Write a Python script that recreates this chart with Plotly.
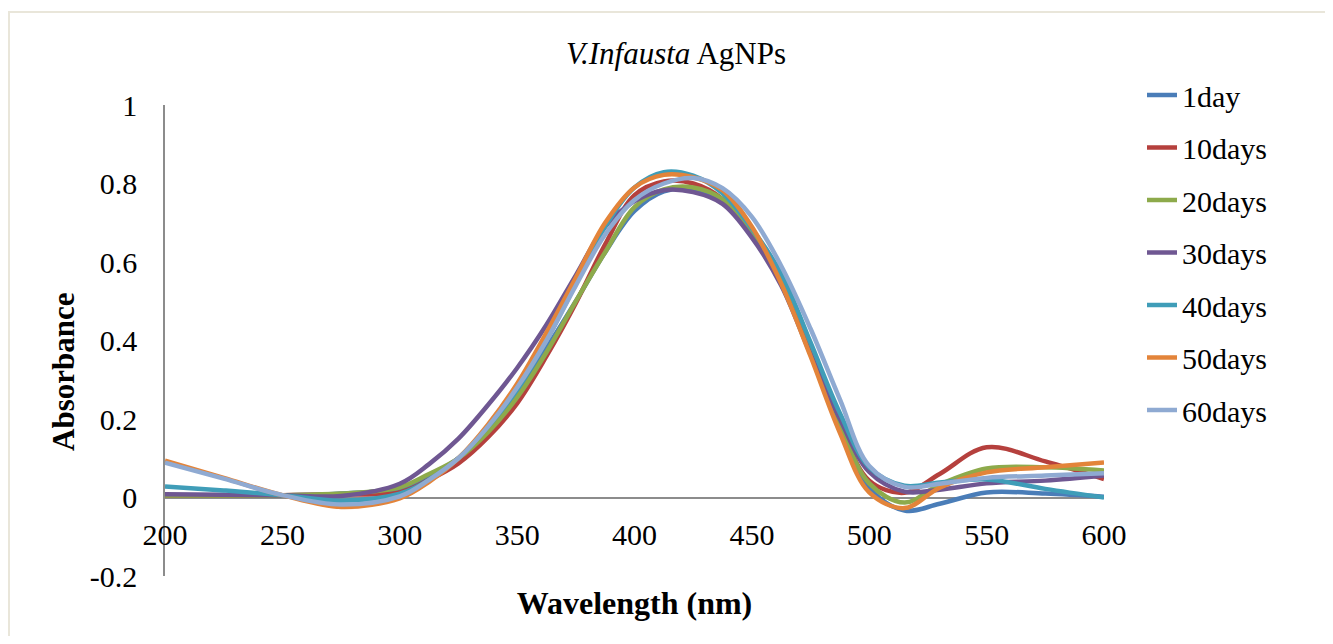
import plotly.graph_objects as go

wavelength = [200, 225, 250, 275, 300, 312.5, 325, 337.5, 350, 362.5, 375, 387.5, 400,
              412.5, 425, 437.5, 450, 462.5, 475, 487.5, 500, 515, 530, 550, 575, 600]

day1 = [0.005, 0.005, 0.005, 0.010, 0.023, 0.055, 0.100, 0.170, 0.265, 0.380, 0.500, 0.625, 0.730,
        0.780, 0.785, 0.755, 0.670, 0.545, 0.370, 0.185, 0.025, -0.033, -0.016, 0.013, 0.010, 0.002]
days10 = [0.005, 0.005, 0.006, 0.008, 0.013, 0.045, 0.087, 0.153, 0.240, 0.360, 0.495, 0.645, 0.770,
          0.805, 0.800, 0.760, 0.670, 0.545, 0.370, 0.185, 0.043, 0.012, 0.060, 0.128, 0.092, 0.047]
days20 = [0.005, 0.005, 0.006, 0.010, 0.026, 0.060, 0.100, 0.166, 0.255, 0.370, 0.500, 0.625, 0.740,
          0.785, 0.790, 0.760, 0.675, 0.550, 0.370, 0.185, 0.036, -0.013, 0.033, 0.074, 0.077, 0.069]
days30 = [0.008, 0.007, 0.006, 0.004, 0.035, 0.085, 0.150, 0.235, 0.330, 0.440, 0.566, 0.690, 0.755,
          0.783, 0.778, 0.748, 0.662, 0.540, 0.365, 0.200, 0.065, 0.015, 0.020, 0.036, 0.043, 0.056]
days40 = [0.028, 0.018, 0.006, -0.008, 0.010, 0.045, 0.100, 0.180, 0.275, 0.400, 0.545, 0.690, 0.790,
          0.829, 0.820, 0.775, 0.685, 0.570, 0.395, 0.215, 0.077, 0.030, 0.038, 0.046, 0.022, 0.000]
days50 = [0.094, 0.050, 0.006, -0.024, -0.002, 0.040, 0.100, 0.185, 0.290, 0.420, 0.560, 0.700, 0.790,
          0.822, 0.816, 0.783, 0.690, 0.545, 0.360, 0.165, 0.013, -0.027, 0.025, 0.064, 0.077, 0.089]
days60 = [0.089, 0.048, 0.006, -0.018, 0.003, 0.045, 0.100, 0.180, 0.280, 0.400, 0.540, 0.670, 0.758,
          0.800, 0.814, 0.788, 0.715, 0.590, 0.430, 0.250, 0.080, 0.027, 0.035, 0.050, 0.056, 0.062]

series_names = ["1day", "10days", "20days", "30days", "40days", "50days", "60days"]
series_values = [day1, days10, days20, days30, days40, days50, days60]
series_colors = ["#4A7DB8", "#B5403D", "#8DAA4B", "#6F5792", "#3F9DB8", "#E3843A", "#8FAAD2"]

x_ticks = [200, 250, 300, 350, 400, 450, 500, 550, 600]
x_ticktext = ["200", "250", "300", "350", "400", "450", "500", "550", "600"]
y_ticks = [-0.2, 0, 0.2, 0.4, 0.6, 0.8, 1]
y_ticktext = ["-0.2", "0", "0.2", "0.4", "0.6", "0.8", "1"]

FONT = "Liberation Serif, Times New Roman, serif"

fig = go.Figure()
for name, vals, col in zip(series_names, series_values, series_colors):
    fig.add_trace(go.Scatter(
        x=wavelength, y=vals, name=name, mode="lines",
        line=dict(color=col, width=4.5, shape="spline", smoothing=1.0),
        legendgroup=name,
    ))

# page body has an 8px margin: figure coordinates are screen coordinates minus 8
W, H = 1317, 628
L, R, T, B = 157, 221, 97, 60
plot_h = H - T - B
pw = W - L - R
zero_frac = (0 - (-0.2)) / 1.2

fig.update_layout(
    width=W, height=H,
    margin=dict(l=L, r=R, t=T, b=B, autoexpand=False),
    paper_bgcolor="white", plot_bgcolor="white",
    font=dict(family=FONT, size=30, color="black"),
    title=dict(text="<i>V.Infausta</i> AgNPs", x=668 / W, xanchor="center",
               y=1 - 45 / H, yanchor="middle", font=dict(family=FONT, size=31, color="black")),
    xaxis=dict(
        range=[200, 600], tickvals=x_ticks, ticktext=x_ticktext,
        showgrid=False, zeroline=False, showline=False, ticks="",
        anchor="free", position=zero_frac, ticklabelstandoff=16,
        tickfont=dict(family=FONT, size=30, color="black"),
        title=dict(text="<b>Wavelength (nm)</b>", standoff=42,
                   font=dict(family=FONT, size=32, color="black")),
        automargin=False,
    ),
    yaxis=dict(
        range=[-0.2, 1], tickvals=y_ticks, ticktext=y_ticktext,
        showgrid=False, zeroline=True, zerolinecolor="#8C8C8C", zerolinewidth=1.5,
        showline=True, linecolor="#8C8C8C", linewidth=1.5, ticks="",
        ticklabelstandoff=20,
        tickfont=dict(family=FONT, size=30, color="black"),
        automargin=False,
    ),
    legend=dict(
        x=(1134 - L) / pw, xanchor="left",
        y=1 + (T - 61) / plot_h, yanchor="top",
        font=dict(family=FONT, size=30, color="black"),
        bgcolor="rgba(0,0,0,0)", tracegroupgap=10.5, itemwidth=30,
        maxheight=560,
    ),
    showlegend=True,
)

# y-axis title (sits below the plot-area centre, as in the reference)
fig.add_annotation(text="<b>Absorbance</b>", xref="paper", yref="paper",
                   x=(55 - L) / pw, y=(H - B - 364) / plot_h, textangle=-90,
                   xanchor="center", yanchor="middle", showarrow=False,
                   font=dict(family=FONT, size=31, color="black"))

fig.add_shape(type="rect", xref="paper", yref="paper",
              x0=(1 - L) / pw, x1=(W + 30 - L) / pw,
              y0=-(B + 30) / plot_h, y1=1 + (T - 4) / plot_h,
              line=dict(color="#E9E6DA", width=2), fillcolor="rgba(0,0,0,0)", layer="below")

fig.write_html("out.html")
